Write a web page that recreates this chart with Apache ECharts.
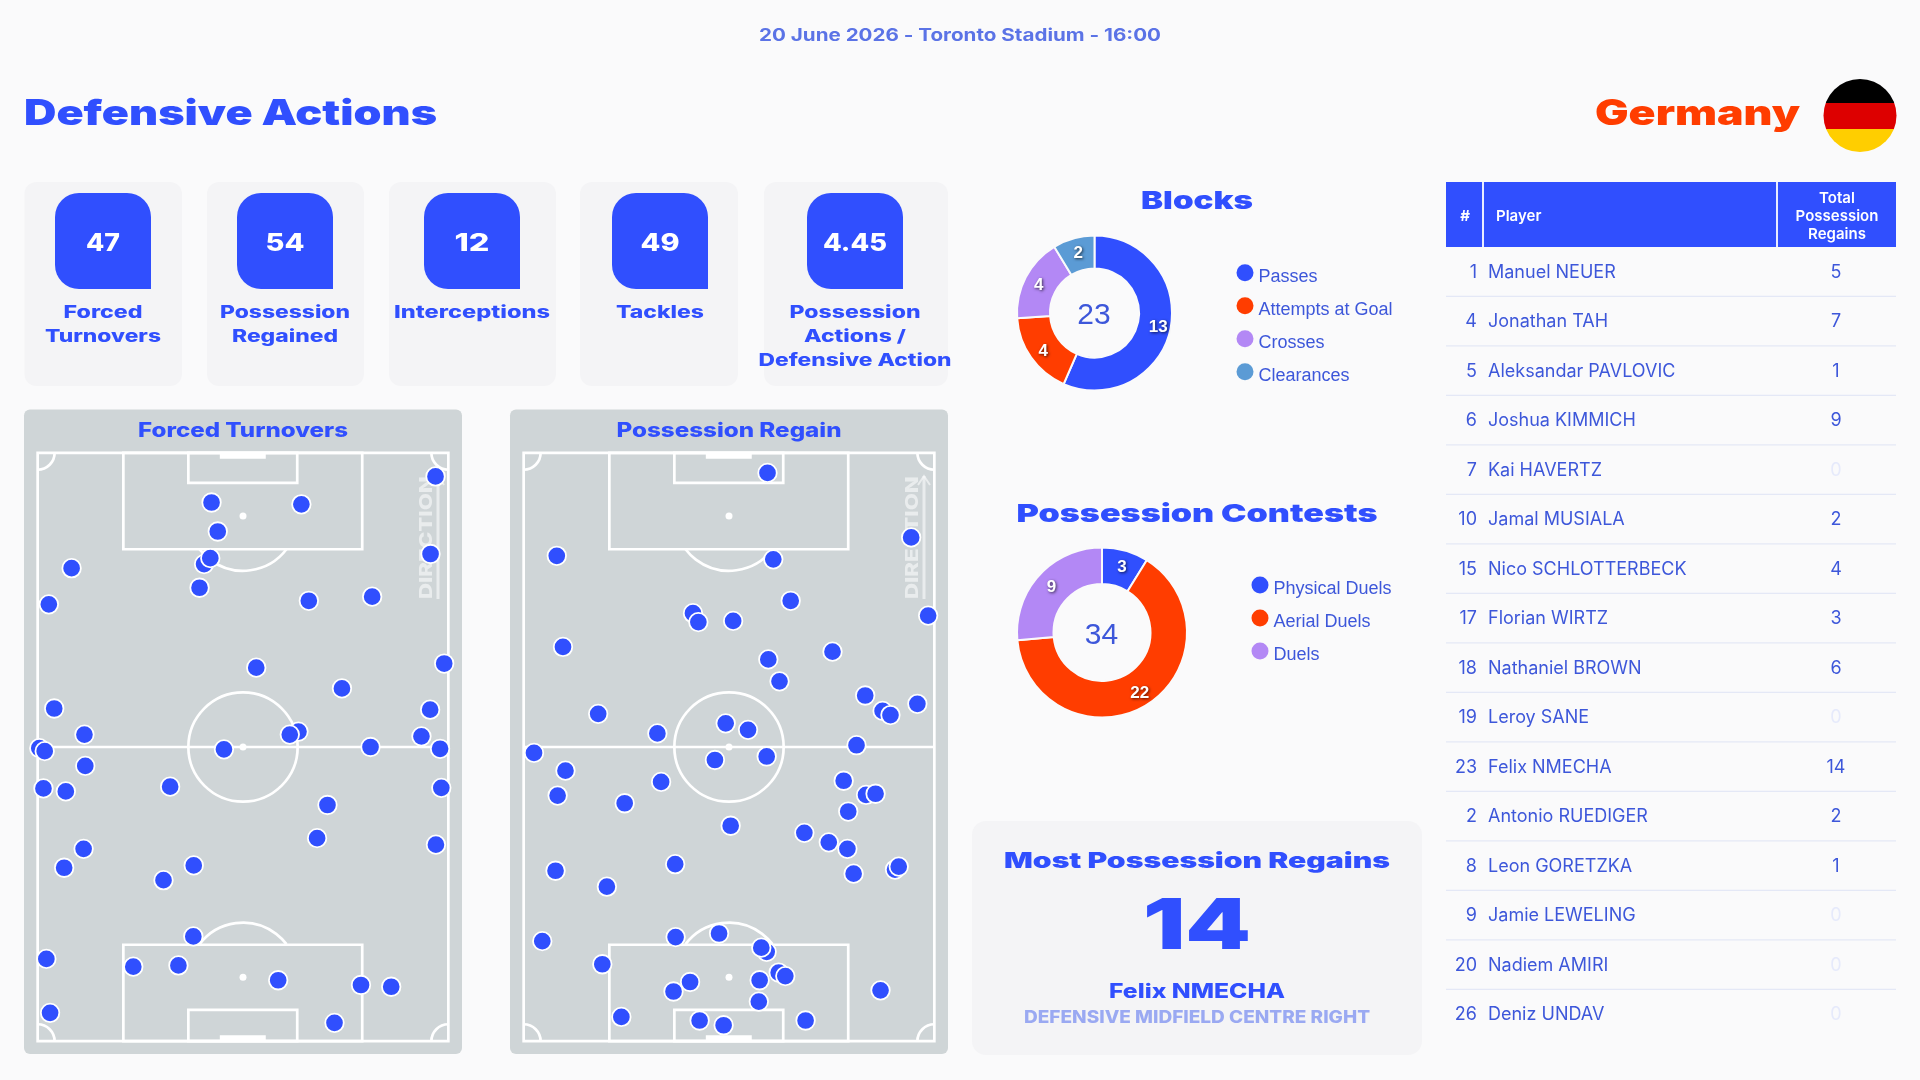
<!DOCTYPE html>
<html><head><meta charset="utf-8">
<style>html,body{margin:0;padding:0;background:#FAFAFB}#c{width:1920px;height:1080px}</style>
<script src="https://cdn.jsdelivr.net/npm/echarts@6/dist/echarts.min.js"></script>
</head><body><div id="c"></div>
<script>
const BLUE='#304FFE', RED='#FF3D00', PURPLE='#B388F5', STEEL='#5B9BD5', TXT='#3D57DA', BG='#FAFAFB', CARD='#F4F4F6', TURF='#CFD5D7';

const kpiLabels=[['Forced','Turnovers'],['Possession','Regained'],['Interceptions'],['Tackles'],['Possession','Actions /','Defensive Action']];
const kpiValues=['47','54','12','49','4.45'];

const blockNames=['Passes','Attempts at Goal','Crosses','Clearances'];
const blockValues=[13,4,4,2];
const contestNames=['Physical Duels','Aerial Duels','Duels'];
const contestValues=[3,22,9];

const shirtNumbers=[1,4,5,6,7,10,15,17,18,19,23,2,8,9,20,26];
const playerNames=['Manuel NEUER','Jonathan TAH','Aleksandar PAVLOVIC','Joshua KIMMICH','Kai HAVERTZ','Jamal MUSIALA','Nico SCHLOTTERBECK','Florian WIRTZ','Nathaniel BROWN','Leroy SANE','Felix NMECHA','Antonio RUEDIGER','Leon GORETZKA','Jamie LEWELING','Nadiem AMIRI','Deniz UNDAV'];
const regains=[5,7,1,9,0,2,4,3,6,0,14,2,1,0,0,0];

const turnoverPoints=[[96.5,4.3],[42.4,8.7],[64.1,9.0],[43.9,13.6],[40.6,19.1],[42.1,18.1],[95.3,17.4],[8.6,19.8],[39.5,23.1],[3.1,25.9],[65.9,25.3],[81.2,24.6],[53.2,36.6],[73.9,40.1],[98.6,35.9],[4.4,43.5],[95.2,43.7],[11.7,47.9],[63.4,47.4],[61.3,47.9],[93.1,48.2],[0.8,50.2],[2.1,50.7],[45.4,50.4],[80.8,50.0],[97.6,50.3],[11.9,53.2],[1.8,57.0],[7.2,57.5],[32.4,56.7],[97.9,56.9],[70.4,59.8],[67.9,65.4],[11.5,67.2],[96.6,66.5],[6.8,70.4],[38.1,70.0],[30.8,72.5],[38.0,82.0],[2.5,85.8],[23.5,87.1],[34.4,86.9],[58.5,89.4],[78.5,90.2],[85.8,90.5],[3.4,94.9],[72.1,96.6]];
const regainPoints=[[59.3,3.7],[94.0,14.6],[8.4,17.7],[60.7,18.3],[64.9,25.3],[41.3,27.4],[42.6,28.9],[51.0,28.7],[98.1,27.8],[9.9,33.1],[75.0,33.9],[59.5,35.2],[62.2,38.9],[82.9,41.3],[87.1,43.9],[89.0,44.6],[95.5,42.7],[18.4,44.4],[32.7,47.7],[49.2,46.0],[54.6,47.1],[80.8,49.7],[2.9,51.0],[10.5,54.0],[46.6,52.2],[59.1,51.6],[8.6,58.2],[33.6,55.9],[24.8,59.5],[77.7,55.7],[83.1,58.1],[85.4,57.9],[78.8,60.9],[50.4,63.3],[68.2,64.5],[74.1,66.1],[78.6,67.2],[8.1,70.9],[37.0,69.8],[80.1,71.4],[90.1,70.7],[91.0,70.2],[20.5,73.6],[4.9,82.8],[37.1,82.1],[47.6,81.5],[59.1,84.6],[57.8,83.9],[19.4,86.7],[62.0,88.1],[63.6,88.7],[40.6,89.7],[36.6,91.3],[57.4,89.4],[57.2,93.0],[86.6,91.1],[24.0,95.6],[42.9,96.2],[48.7,97.0],[68.5,96.2]];

/* pitch markings, in the same 0-100 pitch units as the points */
const pitchRects=[[0.4,0.3,99.6,99.7],[21.1,0.3,78.8,16.6],[36.8,0.3,63.1,5.4],[21.1,83.4,78.8,99.7],[36.8,94.4,63.1,99.7]];
const pitchLines=[[0.4,50,99.6,50]];
const pitchArcs=[[50,50,13.2,0,360],[50,11,13.2,37.3,142.7],[50,88.9,13.2,217.3,322.7],[0.4,0.3,4.1,0,90],[99.6,0.3,4.1,90,180],[99.6,99.7,4.1,180,270],[0.4,99.7,4.1,270,360]];
const pitchGoals=[[44.4,0.3,55.5,1.3],[44.4,98.7,55.5,99.7]];
const pitchSpots=[[50,11],[50,50],[50,88.9]];

const measure=document.createElement('canvas').getContext('2d');
function text(str,x,y,size,weight,color,align,w,family,extra){
  const font=weight+' '+size+'px '+(family||'Inter');
  measure.font=font;
  const sx=w?w/measure.measureText(str).width:1;
  return Object.assign({type:'text',x:x,y:y+1,scaleX:sx,z:5,silent:true,
    style:{text:str,font:font,fill:color,align:align||'center',verticalAlign:'middle'}},extra||{});
}
function rect(x,y,w,h,r,fill){return {type:'rect',z:1,silent:true,shape:{x:x,y:y,width:w,height:h,r:r},style:{fill:fill}};}

const g=[];
g.push(text('20 June 2026 - Toronto Stadium - 16:00',960,35,17,700,'#5B73E6','center',402));
g.push(text('Defensive Actions',24,113,35,900,BLUE,'left',413));
g.push(text('Germany',1595,113,35,900,RED,'left',205));
g.push({type:'circle',z:3,silent:true,shape:{cx:1860,cy:115.5,r:36.5},style:{fill:{type:'linear',x:0,y:0,x2:0,y2:1,colorStops:[
  {offset:0,color:'#000'},{offset:.333,color:'#000'},{offset:.333,color:'#DD0000'},{offset:.68,color:'#DD0000'},{offset:.68,color:'#FFCE00'},{offset:1,color:'#FFCE00'}]}}});

const cardBoxes=[[24.5,157.5],[207,157],[389,167],[580,158],[764,184]];
const tileLeft=[55,237,424,612,807];
const kpiWidths=[[79,116],[130,106],[156],[88],[131,102,193]];
const valueWidths=[34,39,35,39,64];
cardBoxes.forEach((c,i)=>{
  g.push(rect(c[0],182,c[1],204,12,CARD));
  g.push({type:'rect',z:2,silent:true,shape:{x:tileLeft[i],y:193,width:96,height:96,r:[24,24,0,24]},style:{fill:BLUE}});
  g.push(text(kpiValues[i],tileLeft[i]+48,243,24,800,'#fff','center',valueWidths[i]));
  kpiLabels[i].forEach((l,j)=>g.push(text(l,tileLeft[i]+48,312+24*j,17,800,BLUE,'center',kpiWidths[i][j])));
});

[[24,36,243,'Forced Turnovers',210],[510,522,729,'Possession Regain',225]].forEach(p=>{
  g.push(rect(p[0],409.5,438,644.5,6,TURF));
  g.push(text(p[3],p[2],429.5,20,800,BLUE,'center',p[4]));
  g.push(text('DIRECTION',p[1]+391,536.6,18,800,'rgba(255,255,255,0.55)','center',123,null,{rotation:Math.PI/2}));
  g.push({type:'polyline',z:4,silent:true,shape:{points:[[p[1]+402,599],[p[1]+402,476]]},style:{stroke:'rgba(255,255,255,0.55)',lineWidth:3,fill:'none'}});
  g.push({type:'polyline',z:4,silent:true,shape:{points:[[p[1]+396,485],[p[1]+402,476],[p[1]+408,485]]},style:{stroke:'rgba(255,255,255,0.55)',lineWidth:2,fill:'none'}});
});

g.push(text('Blocks',1197,200.5,25,900,BLUE,'center',112));
g.push(text('Possession Contests',1197,513,25,900,BLUE,'center',361));
const sum=a=>a.reduce((s,v)=>s+v,0);
g.push(text(String(sum(blockValues)),1094,315,30,400,TXT,'center',null,'Liberation Sans'));
g.push(text(String(sum(contestValues)),1101.5,634.5,30,400,TXT,'center',null,'Liberation Sans'));

g.push(rect(972,821,450,234,14,CARD));
g.push(text('Most Possession Regains',1197,861,21,900,BLUE,'center',386));
g.push(text(String(Math.max.apply(null,regains)),1197,927,70,900,BLUE,'center',108));
g.push(text('Felix NMECHA',1197,990.7,20,800,BLUE,'center',176));
g.push(text('DEFENSIVE MIDFIELD CENTRE RIGHT',1197,1016.7,17,800,'#9AA9F2','center',346));

g.push(rect(1446,182,450,65,0,BLUE));
g.push(rect(1482,182,2,65,0,'#E8ECFF'));
g.push(rect(1776,182,2,65,0,'#E8ECFF'));
g.push(text('#',1465,215,15,700,'#fff','center'));
g.push(text('Player',1496,215,15,600,'#fff','left'));
['Total','Possession','Regains'].forEach((s,i)=>g.push(text(s,1837,197+18*i,15,600,'#fff','center')));

function pieSeries(names,values,colors,cx,cy,r0,r1){
  return {type:'pie',center:[cx,cy],radius:[r0,r1],startAngle:90,clockwise:true,silent:true,animation:false,
    itemStyle:{borderColor:BG,borderWidth:2},labelLine:{show:false},
    label:{show:true,position:'inside',formatter:'{c}',offset:[1,1.5],color:'#fff',fontFamily:'Liberation Sans',fontWeight:'bold',fontSize:17,
      textShadowColor:'rgba(0,0,0,0.7)',textShadowBlur:3,textShadowOffsetX:1,textShadowOffsetY:1},
    data:names.map((n,i)=>({name:n,value:values[i],itemStyle:{color:colors[i]}}))};
}
function legend(names,left,top){
  return {data:names,orient:'vertical',left:left,top:top,padding:0,icon:'circle',itemWidth:17,itemHeight:17,itemGap:11,selectedMode:false,
    itemStyle:{borderWidth:0},formatter:'{t|{name}}',
    textStyle:{rich:{t:{color:TXT,fontFamily:'Liberation Sans',fontSize:18,padding:[9,0,0,0]}}}};
}
function pitchSeries(idx){
  return {type:'custom',xAxisIndex:idx,yAxisIndex:idx,silent:true,clip:false,z:1,data:[[0,0]],
    renderItem:function(params,api){
      const st={stroke:'#fff',lineWidth:2.7,fill:'transparent'}, kids=[];
      pitchRects.forEach(r=>{const a=api.coord([r[0],r[1]]),b=api.coord([r[2],r[3]]);
        kids.push({type:'rect',shape:{x:a[0],y:a[1],width:b[0]-a[0],height:b[1]-a[1]},style:st});});
      pitchLines.forEach(r=>{const a=api.coord([r[0],r[1]]),b=api.coord([r[2],r[3]]);
        kids.push({type:'line',shape:{x1:a[0],y1:a[1],x2:b[0],y2:b[1]},style:st});});
      pitchArcs.forEach(r=>{const c=api.coord([r[0],r[1]]);
        kids.push({type:'arc',shape:{cx:c[0],cy:c[1],r:api.size([r[2],0])[0],startAngle:r[3]*Math.PI/180,endAngle:r[4]*Math.PI/180,clockwise:true},style:st});});
      pitchGoals.forEach(r=>{const a=api.coord([r[0],r[1]]),b=api.coord([r[2],r[3]]);
        kids.push({type:'rect',shape:{x:a[0],y:a[1],width:b[0]-a[0],height:b[1]-a[1]},style:{fill:'#fff'}});});
      pitchSpots.forEach(r=>{const c=api.coord(r);
        kids.push({type:'circle',shape:{cx:c[0],cy:c[1],r:3.5},style:{fill:'#fff'}});});
      return {type:'group',children:kids};
    }};
}
function pointSeries(idx,pts){
  return {type:'scatter',xAxisIndex:idx,yAxisIndex:idx,symbol:'circle',symbolSize:18.5,clip:true,silent:true,z:6,
    itemStyle:{color:BLUE,borderColor:'#fff',borderWidth:1.8,opacity:1},data:pts};
}
const rowSeries={type:'custom',xAxisIndex:2,yAxisIndex:2,silent:true,clip:false,z:3,
  data:shirtNumbers.map((n,i)=>[0,i]),encode:{x:0,y:1},
  renderItem:function(params,api){
    const i=params.dataIndex, p=api.coord([0,i]), h=api.size([0,1])[1], W=api.size([450,0])[0];
    const font='400 18px Inter';
    const t=(s,x,align,fill)=>({type:'text',x:p[0]+x,y:p[1]+0.5,style:{text:String(s),font:font,fill:fill,align:align,verticalAlign:'middle'}});
    const kids=[t(shirtNumbers[i],31,'right',TXT),t(playerNames[i],42,'left',TXT),t(regains[i],390,'center',regains[i]===0?'#E6EAFB':TXT)];
    if(i<shirtNumbers.length-1) kids.push({type:'rect',shape:{x:p[0],y:p[1]+h/2-1,width:W,height:1.2},style:{fill:'#E4E8F6'}});
    return {type:'group',children:kids};
  }};

const chart=echarts.init(document.getElementById('c'),null,{width:1920,height:1080,renderer:'canvas'});
chart.setOption({
  animation:false,backgroundColor:BG,graphic:{elements:g},
  legend:[legend(blockNames,1236.5,264.2),legend(contestNames,1251.5,576.5)],
  grid:[{left:36,top:451,width:414,height:592},{left:522,top:451,width:414,height:592},{left:1446,top:247.25,width:450,height:792}],
  xAxis:[{type:'value',min:0,max:100,show:false,gridIndex:0},{type:'value',min:0,max:100,show:false,gridIndex:1},{type:'value',min:0,max:450,show:false,gridIndex:2}],
  yAxis:[{type:'value',min:0,max:100,inverse:true,show:false,gridIndex:0},{type:'value',min:0,max:100,inverse:true,show:false,gridIndex:1},
    {type:'category',inverse:true,show:false,gridIndex:2,data:playerNames}],
  series:[
    pitchSeries(0),pitchSeries(1),pointSeries(0,turnoverPoints),pointSeries(1,regainPoints),
    pieSeries(blockNames,blockValues,[BLUE,RED,PURPLE,STEEL],1094.5,313,44.5,77.5),
    pieSeries(contestNames,contestValues,[BLUE,RED,PURPLE],1102,632.5,48.5,85),
    rowSeries
  ]
});
</script></body></html>
